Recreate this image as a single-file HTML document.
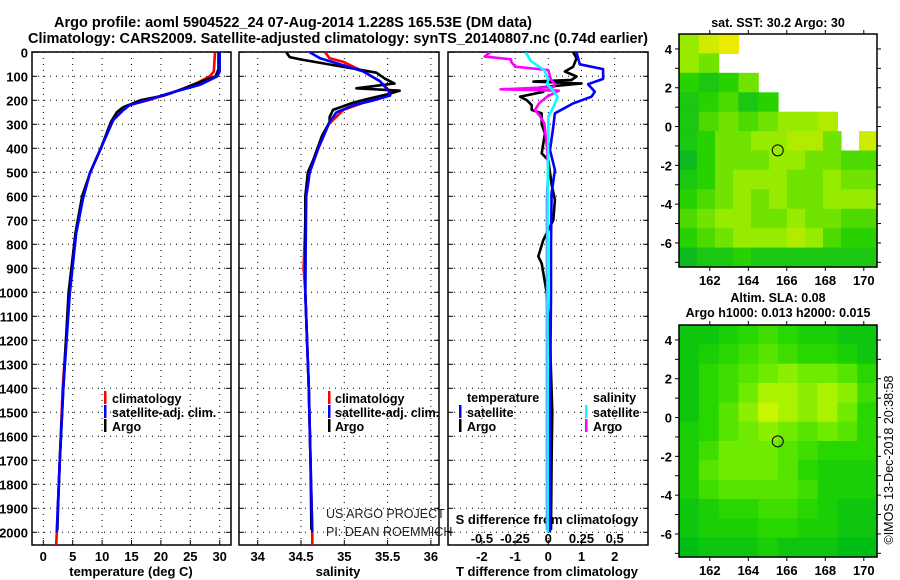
<!DOCTYPE html>
<html><head><meta charset="utf-8">
<style>
html,body{margin:0;padding:0;background:#fff;}
svg{display:block;font-family:"Liberation Sans",Arial,sans-serif;}
.b{font-weight:bold;}
</style></head>
<body>
<svg id="chart" width="900" height="580" viewBox="0 0 900 580">
<rect x="0" y="0" width="900" height="580" fill="#fff"/>
<text x="293" y="27" text-anchor="middle" class="b" font-size="14.5">Argo profile: aoml 5904522_24 07-Aug-2014 1.228S 165.53E (DM data)</text>
<text x="338" y="43" text-anchor="middle" class="b" font-size="14.5" textLength="620">Climatology: CARS2009. Satellite-adjusted climatology: synTS_20140807.nc (0.74d earlier)</text>
<g id="plots"></g>
</svg>
<script>
// ---------- data ----------
const depthTicks = [0,100,200,300,400,500,600,700,800,900,1000,1100,1200,1300,1400,1500,1600,1700,1800,1900,2000];
const tempTicks = [0,5,10,15,20,25,30];
const salTicks = [34,34.5,35,35.5,36];
const salTickLabels = ["34","34.5","35","35.5","36"];
const tdiffTicks = [-2,-1,0,1,2];
const sdiffTicks = [-0.5,-0.25,0,0.25,0.5];
const sdiffTickLabels = ["-0.5","-0.25","0","0.25","0.5"];
const lonTicks = [162,164,166,168,170];
const latTicks = [4,2,0,-2,-4,-6];

const tDepClim = [0,80,100,130,170,200,220,245,285,393,504,616,754,1004,1400,1700,2000,2055];
const tClim = [29.2,29.0,28.3,26.0,21.8,17.8,14.6,13.2,11.8,9.9,7.9,6.6,5.5,4.4,3.3,2.8,2.3,2.2];
const tDepSat = [0,80,100,136,170,200,220,241,282,393,504,616,754,1004,1400,1700,2000];
const tSat = [30.0,30.0,29.6,26.6,21.5,17.6,14.7,13.6,11.9,9.9,7.9,6.7,5.6,4.5,3.4,2.8,2.3];
const tDepArgo = [0,70,100,130,150,180,200,230,250,290,400,500,600,750,1000,1400,1700,1900,1990];
const tArgo = [29.8,29.8,29.3,26.0,24.0,20.5,16.5,13.5,12.5,11.5,9.8,8.0,6.6,5.5,4.3,3.4,2.8,2.5,2.4];

const sDepClim = [0,25,40,80,120,170,200,240,300,400,500,600,900,1000,1400,1700,2000,2055];
const sClim = [34.78,34.83,34.99,35.22,35.41,35.55,35.30,34.99,34.82,34.70,34.60,34.56,34.53,34.55,34.59,34.61,34.63,34.63];
const sDepSat = [0,25,50,80,120,160,180,200,220,250,290,400,500,600,1000,1400,1700,2000];
const sSat = [34.60,34.72,34.95,35.22,35.41,35.51,35.53,35.34,35.11,34.91,34.83,34.70,34.60,34.56,34.55,34.59,34.61,34.63];
const sDepArgo = [0,20,30,70,85,110,130,150,160,175,195,210,240,270,290,350,450,500,600,1000,1400,1700,1990];
const sArgo = [34.33,34.37,34.50,35.14,35.37,35.47,35.58,35.14,35.64,35.50,35.26,35.10,34.87,34.83,34.83,34.74,34.64,34.58,34.55,34.55,34.59,34.61,34.62];

const dtDepSat = [0,50,70,111,133,164,185,213,254,310,407,490,587,800,1000,1500,2000];
const dtSat = [0.85,0.95,1.65,1.65,1.2,1.4,1.3,0.75,0.2,0.15,0.05,0.2,0.1,0.08,0.08,0.05,0.05];
const dtDepArgo = [0,25,60,80,101,115,122,130,140,150,165,185,199,220,240,254,300,338,380,421,449,550,615,699,782,850,880,1000,1200,1500,1700,1990];
const dtArgo = [0.75,0.85,0.75,0.5,0.85,0.7,-0.45,1.0,0.2,-0.45,-0.15,-0.85,-0.65,-0.5,-0.5,-0.2,-0.2,-0.1,-0.15,-0.2,0,0.1,0.2,0.15,-0.15,-0.3,-0.2,-0.05,0.05,0.12,0.1,0.08];
const dsDepSat = [0,37,74,115,133,150,164,185,227,268,350,600,1000,2000];
const dsSat = [-0.17,-0.13,-0.03,0,-0.01,0.02,0.04,0.07,0.04,0,0,-0.005,-0.005,-0.005];
const dsDepArgo = [0,18,29,39,60,74,115,133,145,154,160,185,213,240,268,296,400,490,600,1000,1500,1990];
const dsArgo = [-0.44,-0.48,-0.28,-0.28,-0.25,0,0.02,0.05,0.04,-0.36,0.08,-0.01,-0.07,-0.1,-0.06,-0.03,-0.01,0,-0.01,-0.01,-0.01,-0.01];

// SST map rows (north to south), '.' = no data, 0 green .. 9 yellow
const sstRows = [
"689.......",
"65........",
"3235......",
"23423.....",
"24545667..",
"235566775.8",
"13555665544",
"23566655655",
"34565655666",
"45665565544",
"34566676433",
"12232222222"];
// SLA map rows
const slaRows = [
"1123432211",
"1234543321",
"1345676653",
"1346887874",
"1357987863",
"2356765653",
"2466654333",
"2566653222",
"2455554222",
"1233443211",
"1222332211",
"0111211100"];
const argoLon = 165.53;
const argoLat = -1.228;

// ---------- helpers ----------
const NS = "http://www.w3.org/2000/svg";
const G = document.getElementById("plots");
function mk(tag, attrs, parent){
  const e = document.createElementNS(NS, tag);
  for (const k in attrs) e.setAttribute(k, attrs[k]);
  (parent||G).appendChild(e);
  return e;
}
const yTop = 52.3, pxPer = 0.24;
function yD(d){ return yTop + d*pxPer; }
const P1 = {l:32, r:231}, P2 = {l:239, r:439}, P3 = {l:448, r:648};
const pTop = 52, pBot = 545;
function xT(v){ return 43.3 + v*5.88; }
function xS(v){ return 257.7 + (v-34)*86.6; }
function xDT(v){ return 548.3 + v*33.2; }
function xDS(v){ return 548.3 + v*132.8; }

function panelFrame(P, name){
  const r = mk("rect",{x:P.l,y:pTop,width:P.r-P.l,height:pBot-pTop,fill:"none",stroke:"#000","stroke-width":1.5});
  
  
  depthTicks.forEach(d=>{
    const y = yD(d);
    const g = mk("line",{x1:P.l,x2:P.r,y1:y,y2:y,stroke:"#000","stroke-width":1,"stroke-dasharray":"1,5"});
    
    
    mk("line",{x1:P.l,x2:P.l+5,y1:y,y2:y,stroke:"#000","stroke-width":1});
    mk("line",{x1:P.r-5,x2:P.r,y1:y,y2:y,stroke:"#000","stroke-width":1});
  });
}
function vGrid(ticks, fx, labels, name, ly){
  ticks.forEach((t,i)=>{
    const x = fx(t);
    const g = mk("line",{x1:x,x2:x,y1:pTop,y2:pBot,stroke:"#000","stroke-width":1,"stroke-dasharray":"1,5"});
    
    
    mk("line",{x1:x,x2:x,y1:pBot-5,y2:pBot,stroke:"#000","stroke-width":1});
    const tx = mk("text",{x:x,y:ly||561,"text-anchor":"middle","font-size":13,"font-weight":"bold"});
    tx.textContent = labels ? labels[i] : String(t);
    
    
  });
}
function profile(deps, vals, fx, color, name, clipId){
  const pts = deps.map((d,i)=>fx(vals[i]).toFixed(1)+","+yD(d).toFixed(1)).join(" ");
  const pl = mk("polyline",{points:pts,fill:"none",stroke:color,"stroke-width":2.6,"stroke-linejoin":"round","clip-path":"url(#"+clipId+")"});
  
  
}
function txt(x,y,s,size,bold,anchor,name,extra){
  const t = mk("text",Object.assign({x:x,y:y,"font-size":size,"text-anchor":anchor||"start"},extra||{}));
  if(bold) t.setAttribute("font-weight","bold");
  t.textContent = s;
  
  
  return t;
}
function legBar(x,y,color,name){
  const r = mk("rect",{x:x,y:y-7,width:2.5,height:13,fill:color});
  
  
}

const defs = mk("defs",{});
[["c1",P1],["c2",P2],["c3",P3]].forEach(([id,P])=>{
  const cp = mk("clipPath",{id:id},defs);
  mk("rect",{x:P.l,y:pTop,width:P.r-P.l,height:pBot-pTop},cp);
});

// ---------- panel 1: temperature ----------
panelFrame(P1,'temperature-panel');
vGrid(tempTicks, xT, null, 'temperature-x');
depthTicks.forEach(d=>{
  txt(28, yD(d)+5, String(d), 13, true, "end", 'depth-tick-label');
});
profile(tDepClim,tClim,xT,"#f00",'temperature-climatology-line','c1');
profile(tDepArgo,tArgo,xT,"#000",'temperature-argo-line','c1');
profile(tDepSat,tSat,xT,"#00f",'temperature-satellite-line','c1');
txt(131,576,"temperature (deg C)",13,true,"middle",'temperature-axis-title');
legBar(104,398,"#f00",'legend-climatology-swatch'); txt(112,403,"climatology",12.5,true,"start",'legend-climatology');
legBar(104,412,"#00f",'legend-satellite-swatch'); txt(112,417,"satellite-adj. clim.",12.5,true,"start",'legend-satellite');
legBar(104,426,"#000",'legend-argo-swatch'); txt(112,431,"Argo",12.5,true,"start",'legend-argo');

// ---------- panel 2: salinity ----------
panelFrame(P2,'salinity-panel');
vGrid(salTicks, xS, salTickLabels, 'salinity-x');
profile(sDepClim,sClim,xS,"#f00",'salinity-climatology-line','c2');
profile(sDepArgo,sArgo,xS,"#000",'salinity-argo-line','c2');
profile(sDepSat,sSat,xS,"#00f",'salinity-satellite-line','c2');
txt(338,576,"salinity",13,true,"middle",'salinity-axis-title');
legBar(328,398,"#f00",'legend-s-climatology-swatch'); txt(335,403,"climatology",12.5,true,"start",'legend-s-climatology');
legBar(328,412,"#00f",'legend-s-satellite-swatch'); txt(335,417,"satellite-adj. clim.",12.5,true,"start",'legend-s-satellite');
legBar(328,426,"#000",'legend-s-argo-swatch'); txt(335,431,"Argo",12.5,true,"start",'legend-s-argo');
txt(326,518,"US ARGO PROJECT",12.5,false,"start",'credit-project',{"fill":"#222"});
txt(326,536,"PI: DEAN ROEMMICH",12.5,false,"start",'credit-pi',{"fill":"#222"});

// ---------- panel 3: differences ----------
panelFrame(P3,'difference-panel');
vGrid(tdiffTicks, xDT, null, 't-difference-x');
sdiffTicks.forEach((t,i)=>{ txt(xDS(t),543,sdiffTickLabels[i],13,true,"middle",'s-difference-tick-label'); });
txt(547,524,"S difference from climatology",13,true,"middle",'s-difference-axis-title');
profile(dtDepArgo,dtArgo,xDT,"#000",'t-difference-argo-line','c3');
profile(dtDepSat,dtSat,xDT,"#00f",'t-difference-satellite-line','c3');
profile(dsDepArgo,dsArgo,xDS,"#f0f",'s-difference-argo-line','c3');
profile(dsDepSat,dsSat,xDS,"#0ff",'s-difference-satellite-line','c3');
txt(547,576,"T difference from climatology",13,true,"middle",'t-difference-axis-title');
txt(467,402,"temperature",12.5,true,"start",'legend-temperature-heading');
legBar(459,412,"#00f",'legend-t-satellite-swatch'); txt(467,417,"satellite",12.5,true,"start",'legend-t-satellite');
legBar(459,426,"#000",'legend-t-argo-swatch'); txt(467,431,"Argo",12.5,true,"start",'legend-t-argo');
txt(593,402,"salinity",12.5,true,"start",'legend-salinity-heading');
legBar(585,412,"#0ff",'legend-s2-satellite-swatch'); txt(593,417,"satellite",12.5,true,"start",'legend-s2-satellite');
legBar(585,426,"#f0f",'legend-s2-argo-swatch'); txt(593,431,"Argo",12.5,true,"start",'legend-s2-argo');

// ---------- maps ----------
const lon0 = 160.4, lonPx = 19.25, lat0 = 4.77, latPx = 19.4;
function lerpC(a,b,t){ return "rgb("+a.map((v,i)=>Math.round(v+(b[i]-v)*t)).join(",")+")"; }
function pal(stops, v){
  const f = v/9*(stops.length-1); const i = Math.min(Math.floor(f), stops.length-2);
  return lerpC(stops[i], stops[i+1], f-i);
}
const sstStops = [[0,176,48],[40,210,0],[150,235,0],[235,235,0]];
const slaStops = [[0,190,20],[40,215,0],[110,235,0],[200,245,0]];
function drawMap(top, bottom, rows, stops, name, titleLines, titleY){
  const L = 679, R = 877;
  const mx = lon=> L + (lon-lon0)*lonPx;
  const my = lat=> top + (lat0-lat)*latPx;
  const nR = rows.length;
  const ch = (bottom-top)/nR;
  rows.forEach((row,ri)=>{
    const nC = row.length, cw = (R-L)/nC;
    for(let ci=0; ci<nC; ci++){
      const c = row[ci];
      if(c === ".") continue;
      const cell = mk("rect",{x:(L+ci*cw).toFixed(1),y:(top+ri*ch).toFixed(1),width:(cw+0.6).toFixed(1),height:(ch+0.6).toFixed(1),fill:pal(stops, +c)});
      
      
    }
  });
  const fr = mk("rect",{x:L,y:top,width:R-L,height:bottom-top,fill:"none",stroke:"#000","stroke-width":1.5});
  
  
  lonTicks.forEach(lon=>{
    const x = mx(lon);
    mk("line",{x1:x,x2:x,y1:top-4,y2:top,stroke:"#000"});
    mk("line",{x1:x,x2:x,y1:bottom,y2:bottom+4,stroke:"#000"});
    txt(x,bottom+18,String(lon),13,true,"middle",name+'-lon-label');
  });
  for(let lat=-7; lat<=4; lat++){
    const y = my(lat);
    mk("line",{x1:L-4,x2:L,y1:y,y2:y,stroke:"#000"});
    mk("line",{x1:R,x2:R+4,y1:y,y2:y,stroke:"#000"});
  }
  latTicks.forEach(lat=>{ txt(672,my(lat)+5,String(lat),13,true,"end",name+'-lat-label'); });
  const c = mk("circle",{cx:mx(argoLon),cy:my(argoLat),r:5.5,fill:"none",stroke:"#000","stroke-width":1});
  
  
  titleLines.forEach((s,i)=>{ txt(778,titleY+i*15,s,12.5,true,"middle",name+'-title'); });
}
drawMap(34, 267, sstRows, sstStops, 'sst-map', ["sat. SST: 30.2 Argo: 30"], 27);
drawMap(325, 557, slaRows, slaStops, 'sla-map', ["Altim. SLA: 0.08","Argo h1000: 0.013 h2000: 0.015"], 302);
txt(893,460,"\u00a9IMOS 13-Dec-2018 20:38:58",12.5,false,"middle",'timestamp-credit',{transform:"rotate(-90 893 460)"});
</script>
</body></html>
